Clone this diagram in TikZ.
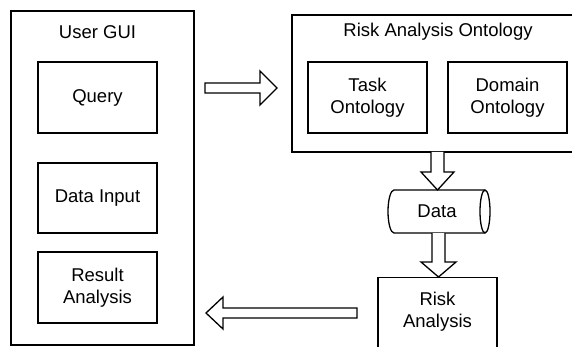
\documentclass[tikz,border=0pt]{standalone}
\usepackage{fontspec}
\setmainfont{Liberation Sans}
\begin{document}
\begin{tikzpicture}[x=1pt,y=-1pt,
  box/.style={draw, line width=1.4pt, inner sep=0pt, align=center},
  inbox/.style={box, minimum width=119pt, minimum height=71pt},
  lbl/.style={inner sep=0pt, align=center},
  blockarrow/.style={draw, fill=white, line width=1.3pt, line join=miter},
  every node/.append style={font=\fontsize{18.5}{22}\selectfont}]
\useasboundingbox (0,0) rectangle (572,347);
\clip (0,0) rectangle (572,347);
% User GUI
\node[box, minimum width=183pt, minimum height=334pt] (gui) at (102.5,178) {};
\node[lbl] (guititle) at (97.5,32) {User GUI};
\node[inbox] (query) at (97.5,97.5) {Query};
\node[inbox, minimum height=70pt] (input) at (97.5,198) {Data Input};
\node[inbox] (result) at (97.5,287.5) {Result\\Analysis};
% Risk Analysis Ontology
\node[box, minimum width=300pt, minimum height=137pt] (onto) at (442,83.5) {};
\node[lbl] (ontotitle) at (438,32) {Risk Analysis Ontology};
\node[inbox] (task) at (367.5,97.5) {Task\\Ontology};
\node[inbox] (domain) at (507.5,97.5) {Domain\\Ontology};
% Data cylinder
\draw[line width=1.3pt] (485,190) -- (394,190)
  arc[start angle=270, end angle=90, x radius=6, y radius=21.5] -- (485,233);
\draw[line width=1.3pt] (485,211.5) ellipse [x radius=5, y radius=21.5];
\node[lbl] (data) at (437,211) {Data};
% Risk Analysis
\node[box, minimum width=119pt, minimum height=90pt, anchor=north] (risk) at (437.5,277) {};
\node[lbl] (risktext) at (437.5,312) {Risk\\Analysis};
% Block arrows
\draw[blockarrow] (205,83) -- (260,83) -- (260,71) -- (277,88) -- (260,105) -- (260,93) -- (205,93) -- cycle;
\draw[blockarrow] (431,152) -- (431,172) -- (421,172) -- (437.5,190) -- (454,172) -- (444,172) -- (444,152);
\draw[blockarrow] (432,233) -- (432,262) -- (421,262) -- (438.5,277) -- (456,262) -- (445,262) -- (445,233);
\draw[blockarrow] (357,308) -- (223,308) -- (223,297) -- (206,313) -- (223,329) -- (223,318) -- (357,318) -- cycle;
\end{tikzpicture}
\end{document}
